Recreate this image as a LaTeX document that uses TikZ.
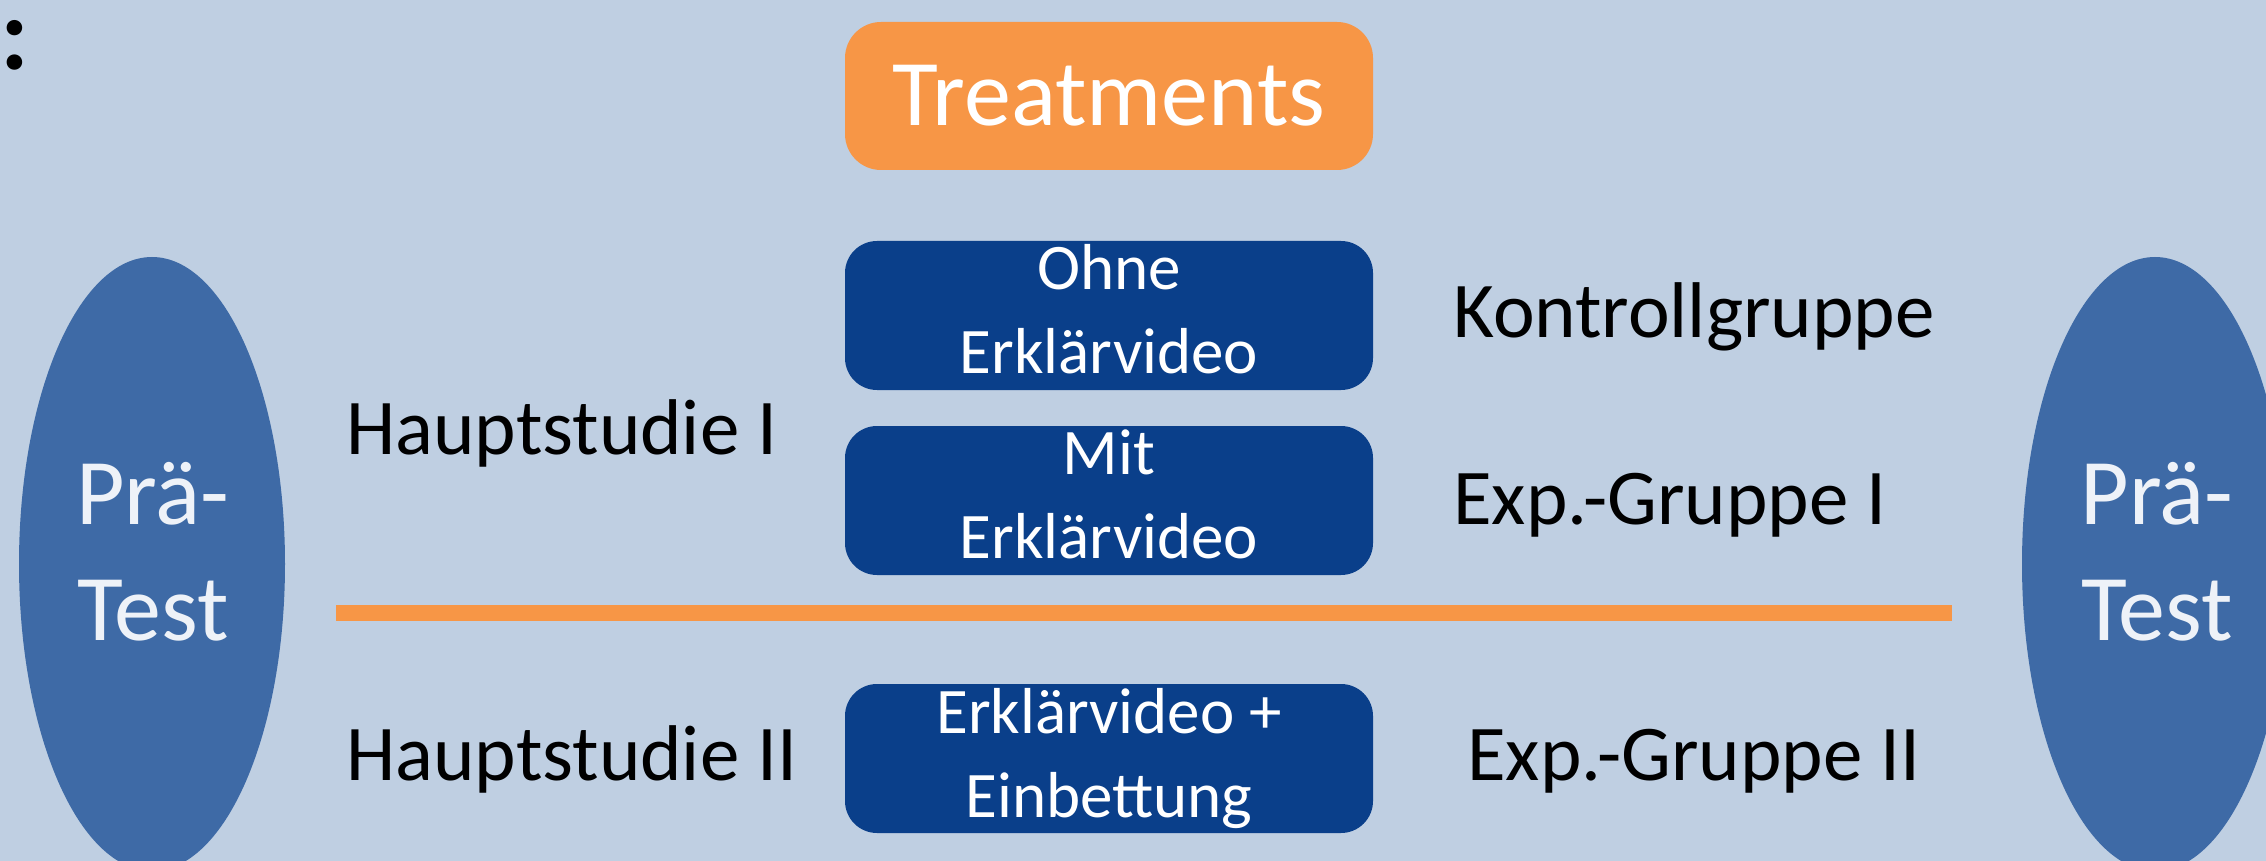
\documentclass[tikz,border=0pt]{standalone}
\usepackage{fontspec}
\setmainfont{Carlito}
\usepackage{xcolor}
\usetikzlibrary{positioning, shapes.geometric}

\definecolor{bgblue}{RGB}{191,207,226}
\definecolor{ovalblue}{RGB}{62,106,166}
\definecolor{boxblue}{RGB}{10,63,138}
\definecolor{accent}{RGB}{247,150,70}
\definecolor{ovaltext}{RGB}{238,242,248}

\tikzset{
  condbox/.style={fill=boxblue, rounded corners=16pt, minimum width=264pt, minimum height=74.5pt,
    text=white, align=center, inner sep=0pt, font=\fontsize{32.5}{42}\selectfont},
  headbox/.style={fill=accent, rounded corners=18pt, minimum width=264pt, minimum height=74pt,
    text=white, inner sep=0pt, font=\fontsize{47}{57}\selectfont},
  oval/.style={ellipse, fill=ovalblue, minimum width=133pt, minimum height=307pt, inner sep=0pt},
  ovaltxt/.style={text=ovaltext, align=center, inner sep=0pt, font=\fontsize{47}{58}\selectfont},
  grplabel/.style={anchor=base west, inner sep=0pt, font=\fontsize{39.5}{48}\selectfont}
}

\begin{document}
\begin{tikzpicture}[x=0.5pt, y=-0.5pt]
\useasboundingbox (0,0) rectangle (2266,861);
\fill[bgblue] (0,0) rectangle (2266,861);
\clip (0,0) rectangle (2266,861);

\node[anchor=base west, inner sep=0pt, font=\bfseries\fontsize{52}{60}\selectfont] (colon) at (0,70) {:};

% Prä-Test links und rechts
\node[oval] (preL) at (152,564) {};
\node[ovaltxt] (preLtxt) at (153,552) {Prä-\\Test};
\node[oval] (preR) at (2155,564) {};
\node[ovaltxt] (preRtxt) at (2157,552) {Prä-\\Test};

\node[headbox] (treat) at (1109,96) {Treatments};

\node[condbox] (ohne) at (1109,315.5) {};
\node[condbox, fill=none] (ohnetxt) at ([yshift=3pt]ohne.center) {Ohne\\Erklärvideo};
\node[condbox] (mit) at (1109,500.5) {};
\node[condbox, fill=none] (mittxt) at ([yshift=3pt]mit.center) {Mit\\Erklärvideo};
\node[condbox] (einb) at (1109,758.5) {Erklärvideo +\\Einbettung};

\node[grplabel] (hs1) at (346,454) {Hauptstudie I};
\node[grplabel] (kg) at (1453,337) {Kontrollgruppe};
\node[grplabel] (eg1) at (1453,524) {Exp.-Gruppe I};
\node[grplabel] (hs2) at (346,780) {Hauptstudie II};
\node[grplabel] (eg2) at (1467,780) {Exp.-Gruppe II};

% Trennlinie
\coordinate (sepL) at (336,613);
\coordinate (sepR) at (1952,613);
\draw[accent, line width=8pt] (sepL) -- (sepR);
\end{tikzpicture}
\end{document}
